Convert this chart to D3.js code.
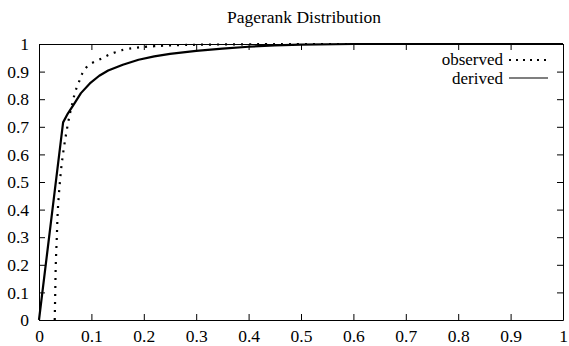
<!DOCTYPE html>
<html>
<head>
<meta charset="utf-8">
<script src="https://cdn.jsdelivr.net/npm/d3@7"></script>
<style>
  body { margin: 0; background: #fff; }
</style>
</head>
<body>
<script>
// values
const xTicks = [0, 0.1, 0.2, 0.3, 0.4, 0.5, 0.6, 0.7, 0.8, 0.9, 1];
const yTicks = [0, 0.1, 0.2, 0.3, 0.4, 0.5, 0.6, 0.7, 0.8, 0.9, 1];

const observedX = [0.030, 0.031, 0.032, 0.034, 0.036, 0.039, 0.043, 0.048, 0.053, 0.062, 0.075, 0.094, 0.119, 0.148, 0.179, 0.22, 0.27, 0.33, 0.4, 0.5, 0.7, 1];
const observedY = [0, 0.1, 0.2, 0.3, 0.4, 0.48, 0.56, 0.63, 0.688, 0.772, 0.857, 0.922, 0.947, 0.971, 0.985, 0.992, 0.996, 0.998, 0.999, 1, 1, 1];

const derivedX = [0, 0.046, 0.055, 0.068, 0.08, 0.097, 0.115, 0.132, 0.16, 0.19, 0.22, 0.25, 0.3, 0.35, 0.4, 0.45, 0.5, 0.6, 0.8, 1];
const derivedY = [0, 0.716, 0.748, 0.786, 0.822, 0.857, 0.885, 0.904, 0.925, 0.943, 0.955, 0.964, 0.975, 0.983, 0.99, 0.995, 0.998, 1, 1, 1];

const width = 569, height = 346;
const margin = {top: 44, right: 6, bottom: 26, left: 39};
const serif = '"Liberation Serif", "DejaVu Serif", "Times New Roman", serif';

const svg = d3.select('body').append('svg')
  .attr('width', width)
  .attr('height', height);

const x = d3.scaleLinear().domain([0, 1]).range([margin.left, width - margin.right]);
const y = d3.scaleLinear().domain([0, 1]).range([height - margin.bottom, margin.top]);

// title
svg.append('text')
  .attr('x', (x(0) + x(1)) / 2 + 3)
  .attr('y', 23)
  .attr('text-anchor', 'middle')
  .style('font-family', serif)
  .style('font-size', '17.5px')
  .text('Pagerank Distribution');

// axes (gnuplot style: inward ticks, mirrored)
const tick = 6;
const fmt = d => d === 0 || d === 1 ? String(d) : d3.format('.1f')(d);

svg.append('g')
  .attr('transform', 'translate(0,' + y(0) + ')')
  .call(d3.axisBottom(x).tickValues(xTicks).tickSizeInner(-tick).tickSizeOuter(0).tickPadding(10).tickFormat(fmt));

svg.append('g')
  .attr('transform', 'translate(0,' + y(1) + ')')
  .call(d3.axisTop(x).tickValues(xTicks).tickSizeInner(-tick).tickSizeOuter(0).tickFormat(''));

svg.append('g')
  .attr('transform', 'translate(' + x(0) + ',0)')
  .call(d3.axisLeft(y).tickValues(yTicks).tickSizeInner(-tick).tickSizeOuter(0).tickPadding(10).tickFormat(fmt));

svg.append('g')
  .attr('transform', 'translate(' + x(1) + ',0)')
  .call(d3.axisRight(y).tickValues(yTicks).tickSizeInner(-tick).tickSizeOuter(0).tickFormat(''));

svg.selectAll('.tick text')
  .attr('fill', '#000')
  .style('font-family', serif)
  .style('font-size', '17.5px');
svg.selectAll('.domain, .tick line').attr('stroke', '#000').attr('stroke-width', 1);

// curves
const line = d3.line().x(d => x(d[0])).y(d => y(d[1]));
const observed = observedX.map((v, i) => [v, observedY[i]]);
const derived = derivedX.map((v, i) => [v, derivedY[i]]);

svg.append('path')
  .datum(derived)
  .attr('fill', 'none')
  .attr('stroke', '#000')
  .attr('stroke-width', 2.2)
  .attr('stroke-linejoin', 'round')
  .attr('d', line);

svg.append('path')
  .datum(observed)
  .attr('fill', 'none')
  .attr('stroke', '#000')
  .attr('stroke-width', 2.2)
  .attr('stroke-dasharray', '2,6')
  .attr('d', line.curve(d3.curveMonotoneY));

// legend
const legend = svg.append('g')
  .style('font-family', serif)
  .style('font-size', '17px');
legend.append('text')
  .attr('x', 503).attr('y', 65)
  .attr('text-anchor', 'end')
  .text('observed');
legend.append('line')
  .attr('x1', 509).attr('x2', 549).attr('y1', 60).attr('y2', 60)
  .attr('stroke', '#000').attr('stroke-width', 2)
  .attr('stroke-dasharray', '2,5');
legend.append('text')
  .attr('x', 503).attr('y', 84)
  .attr('text-anchor', 'end')
  .text('derived');
legend.append('line')
  .attr('x1', 509).attr('x2', 548).attr('y1', 78).attr('y2', 78)
  .attr('stroke', '#000').attr('stroke-width', 1.2);
</script>
</body>
</html>
